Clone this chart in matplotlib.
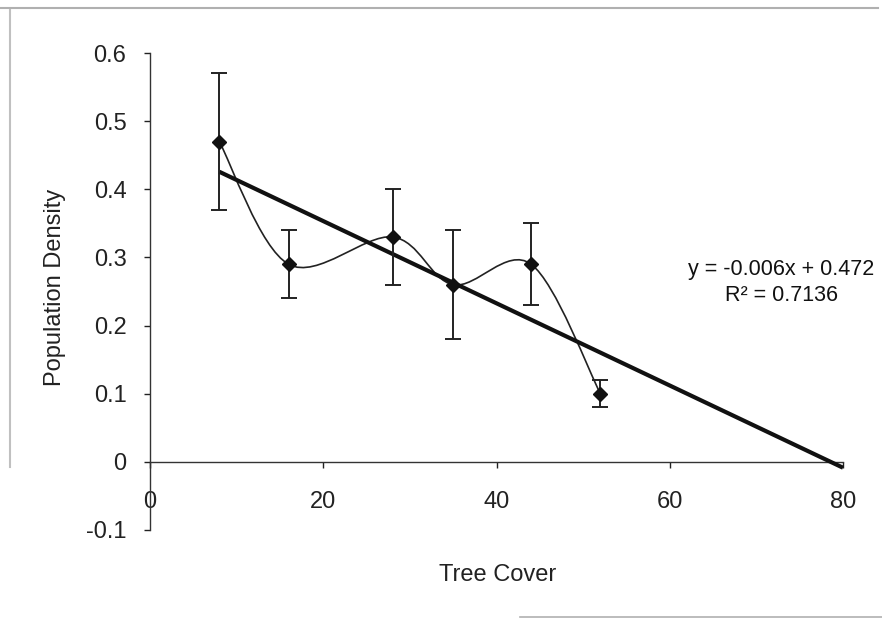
import matplotlib
matplotlib.use("Agg")
import matplotlib.pyplot as plt
import numpy as np
from matplotlib.path import Path
from matplotlib.patches import PathPatch
from matplotlib.lines import Line2D

# data
tree_cover = [8, 16, 28, 35, 44, 52]
density = [0.47, 0.29, 0.33, 0.26, 0.29, 0.10]
density_err = [0.10, 0.05, 0.07, 0.08, 0.06, 0.02]
trend_end = 80
x_ticks = [0, 20, 40, 60, 80]
y_ticks = [-0.1, 0, 0.1, 0.2, 0.3, 0.4, 0.5, 0.6]
eq_text = "y = -0.006x + 0.472"
r2_text = "R\u00b2 = 0.7136"

plt.rcParams["font.family"] = ["Liberation Sans", "DejaVu Sans"]
W, H = 882, 621


def smooth_path(xs, ys):
    # excel-style smoothed line: cubic bezier through each point
    pts = np.column_stack([xs, ys]).astype(float)
    ext = np.vstack([pts[0], pts, pts[-1]])
    verts = [pts[0]]
    codes = [Path.MOVETO]
    for i in range(len(pts) - 1):
        p0, p1, p2, p3 = ext[i], ext[i + 1], ext[i + 2], ext[i + 3]
        verts += [p1 + (p2 - p0) / 6, p2 - (p3 - p1) / 6, p2]
        codes += [Path.CURVE4] * 3
    return Path(verts, codes)


fig = plt.figure(figsize=(W / 100, H / 100), dpi=100)
ax = fig.add_axes([150 / W, 1 - 530 / H, 693 / W, 477 / H])
ax.set_xlim(0, 80)
ax.set_ylim(-0.1, 0.6)

# smoothed connecting line
ax.add_patch(PathPatch(smooth_path(tree_cover, density), fill=False,
                       edgecolor="#222222", lw=1.2, zorder=2))

# linear trendline, forecast forward to x=80
slope, icpt = np.polyfit(tree_cover, density, 1)
tx = np.array([tree_cover[0], trend_end])
ax.plot(tx, slope * tx + icpt, color="#111111", lw=3.0, zorder=3,
        solid_capstyle="butt", clip_on=False)

ax.errorbar(tree_cover, density, yerr=density_err, fmt="D", color="#111111",
            ms=7, ecolor="#222222", elinewidth=1.4, capsize=6, capthick=1.4,
            zorder=4)

for s in ["top", "right"]:
    ax.spines[s].set_visible(False)
ax.spines["bottom"].set_position(("data", 0))
ax.spines["bottom"].set_color("#333333")
ax.spines["left"].set_color("#333333")
ax.spines["bottom"].set_linewidth(1.0)
ax.spines["left"].set_linewidth(1.0)

ax.set_xticks(x_ticks)
ax.set_xticklabels([str(v) for v in x_ticks])
ax.set_yticks(y_ticks)
ax.set_yticklabels(["0" if v == 0 else f"{v:.1f}" for v in y_ticks])
ax.tick_params(axis="x", direction="out", length=4, width=1, pad=17,
               labelsize=17, colors="#222222")
ax.tick_params(axis="y", direction="out", length=4, width=1, pad=13,
               labelsize=17, colors="#222222")

ax.text(72.9, 0.283, eq_text, ha="center", va="center", fontsize=15.5,
        color="#111111")
ax.text(72.9, 0.244, r2_text, ha="center", va="center", fontsize=15.5,
        color="#111111")

fig.text(55 / W, 1 - 287 / H, "Population Density", rotation=90,
         ha="center", va="center", fontsize=17, color="#222222")
fig.text(498 / W, 1 - 575 / H, "Tree Cover", ha="center", va="center",
         fontsize=17, color="#222222")

# faint border left over from the scanned chart frame
fig.add_artist(Line2D([0, 878 / W], [1 - 8 / H] * 2, color="#b0b0b0", lw=1.5))
fig.add_artist(Line2D([10 / W] * 2, [1 - 10 / H, 1 - 467 / H],
                      color="#c0c0c0", lw=1.5))
fig.add_artist(Line2D([520 / W, 1], [1 - 617 / H] * 2, color="#b0b0b0", lw=1.2))

fig.savefig("out.png", dpi=100, facecolor="white")
